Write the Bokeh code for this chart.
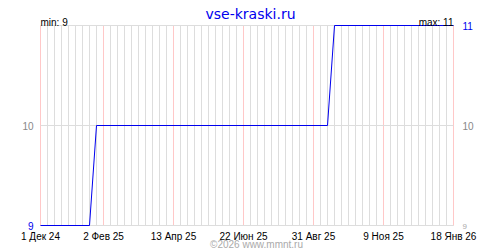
import pandas as pd
from bokeh.plotting import figure
from bokeh.models import Range1d, FixedTicker, Label
from bokeh.core.properties import value
from bokeh.embed import file_html
from bokeh.resources import INLINE

# ---- data ----
dates = ["2024-12-01", "2025-01-19", "2025-01-26", "2025-09-14", "2025-09-21", "2026-01-18"]
values = [9, 9, 10, 10, 11, 11]
tick_dates = ["2024-12-01", "2025-02-02", "2025-04-13", "2025-06-22",
              "2025-08-31", "2025-11-09", "2026-01-18"]
months_ru = ["Янв", "Фев", "Мар", "Апр", "Май", "Июн",
             "Июл", "Авг", "Сен", "Окт", "Ноя", "Дек"]
title_text = "vse-kraski.ru"
min_text = "min: 9"
max_text = "max: 11"
copyright_text = "©2026 www.mmnt.ru"
y_min, y_mid, y_max = 9, 10, 11

FONT = "Liberation Sans"
W, H = 500, 250
PAD_L, PAD_R, PAD_T, PAD_B = 40, 47, 25, 25   # plot-area margins in px

x = pd.to_datetime(dates)
start = pd.Timestamp(tick_dates[0])
end = pd.Timestamp(tick_dates[-1])
tick_ts = pd.to_datetime(tick_dates)
tick_labels = [f"{d.day} {months_ru[d.month - 1]} {d.year % 100:02d}" for d in tick_ts]

def ms(ts):
    return pd.Timestamp(ts).value / 1e6

major = [ms(t) for t in tick_dates]
minor = [ms(t) for t in pd.date_range(start, end, freq="7D")]

# range padding so the plot area sits at the same place as in the reference
span_ms = ms(end) - ms(start)
px_ms = span_ms / (W - PAD_L - PAD_R)
px_y = (y_max - y_min) / (H - PAD_T - PAD_B)
x_range = Range1d(ms(start) - PAD_L * px_ms, ms(end) + PAD_R * px_ms)
y_range = Range1d(y_min - PAD_B * px_y, y_max + PAD_T * px_y)

p = figure(width=W, height=H, output_backend="svg", toolbar_location=None,
           x_axis_type="datetime", x_range=x_range, y_range=y_range,
           x_axis_location=None, y_axis_location=None,
           min_border=0)
p.outline_line_color = None
p.background_fill_color = "white"
p.border_fill_color = "white"

# grids (restricted to the plot area)
p.xgrid.ticker = FixedTicker(ticks=major, minor_ticks=minor)
p.xgrid.grid_line_color = "#ffc8c8"
p.xgrid.minor_grid_line_color = "#dddddd"
p.xgrid.bounds = (ms(start) - 1, ms(end) + 1)
p.xgrid.cross_bounds = (y_min, y_max)
p.ygrid.ticker = FixedTicker(ticks=[y_min, y_mid, y_max])
p.ygrid.grid_line_color = "#dddddd"
p.ygrid.bounds = (y_min - 0.001, y_max + 0.001)
p.ygrid.cross_bounds = (ms(start), ms(end))

# data line
p.line(x, values, line_color="#0000ee", line_width=1)

# x tick labels
p.text(x=list(tick_ts), y=[y_min] * len(tick_ts), text=tick_labels,
       text_font=value(FONT), text_font_size="10px", text_color="black",
       text_align="center", text_baseline="alphabetic", y_offset=11)

# y labels
def ylab(xv, yv, txt, color, align, xoff, size="10px", baseline="middle", yoff=0):
    p.text(x=[xv], y=[yv], text=[txt], text_font=value(FONT), text_font_size=size,
           text_color=color, text_align=align, text_baseline=baseline,
           x_offset=xoff, y_offset=yoff)

ylab(start, y_mid, str(y_mid), "#888888", "right", -7)
ylab(start, y_min, str(y_min), "#0000ee", "right", -7)
ylab(end, y_mid, str(y_mid), "#888888", "left", 9)
ylab(end, y_max, str(y_max), "#0000ee", "left", 9)
ylab(end, y_min, str(y_min), "#aaaaaa", "left", 9, size="8px", baseline="alphabetic", yoff=1)

# header / footer texts (screen units, origin at bottom-left)
def slabel(px, py, text, font=FONT, size="10px", color="black", align="left",
           baseline="alphabetic"):
    p.add_layout(Label(x=px, y=H - py, x_units="screen", y_units="screen", text=text,
                       text_font=font, text_font_size=size, text_color=color,
                       text_align=align, text_baseline=baseline))

slabel(250, 13, title_text, font="DejaVu Sans", size="14px", color="#0000ee", align="center")
slabel(40, 22, min_text)
slabel(453, 22, max_text, align="right")
slabel(256, 249, copyright_text, color="#aaaaaa", align="center", baseline="bottom")

open("out.html", "w").write(file_html(p, INLINE))
